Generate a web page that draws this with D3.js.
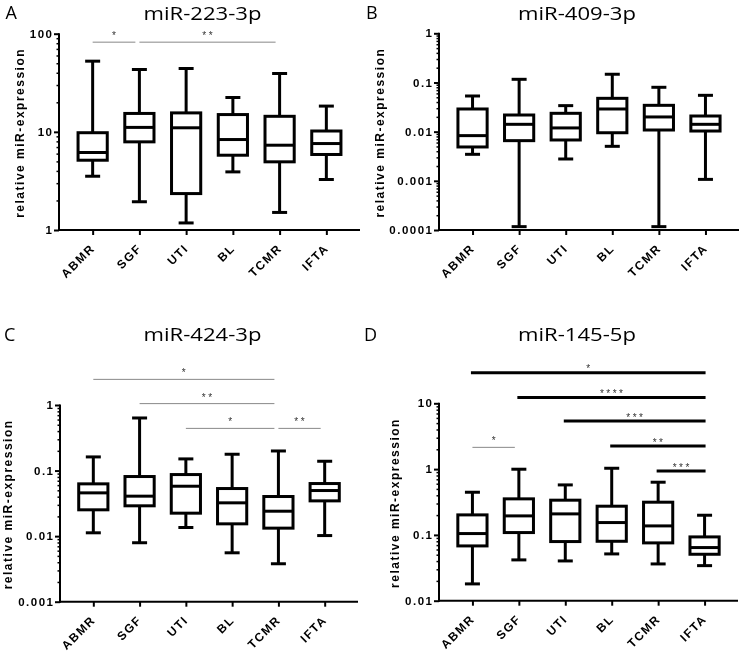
<!DOCTYPE html>
<html><head><meta charset="utf-8">
<script src="https://cdn.jsdelivr.net/npm/d3@7"></script>
<style>body{margin:0;background:#fff}svg{display:block;filter:grayscale(100%)}</style>
</head><body>
<svg id="c" width="740" height="652"></svg>
<script>
const categories = ["ABMR","SGF","UTI","BL","TCMR","IFTA"];

// Panel A: miR-223-3p
const aLow  = [3.53, 1.94, 1.18, 3.91, 1.51, 3.27];
const aQ1   = [5.14, 7.91, 2.35, 5.78, 4.95, 5.88];
const aMed  = [6.16, 11.1, 11.0, 8.35, 7.31, 7.6];
const aQ3   = [9.8, 15.4, 15.6, 15.0, 14.4, 10.2];
const aHigh = [52.5, 43.2, 44.2, 22.4, 39.3, 18.3];
const aTicks = [1, 10, 100];
const aTickLabels = ["1", "10", "100"];
const aSig = [["ABMR","SGF",82,"*","thin"],["SGF","TCMR",82,"**","thin"]];

// Panel B: miR-409-3p
const bLow  = [0.00346, 0.000117, 0.00278, 0.00503, 0.000117, 0.00107];
const bQ1   = [0.00488, 0.00656, 0.00677, 0.0095, 0.0108, 0.0103];
const bMed  = [0.0083, 0.0141, 0.0119, 0.0289, 0.0199, 0.0141];
const bQ3   = [0.0289, 0.0218, 0.0236, 0.0476, 0.0343, 0.0208];
const bHigh = [0.0531, 0.116, 0.0338, 0.147, 0.0798, 0.0548];
const bTicks = [0.0001, 0.001, 0.01, 0.1, 1];
const bTickLabels = ["0.0001", "0.001", "0.01", "0.1", "1"];
const bSig = [];

// Panel C: miR-424-3p
const cLow  = [0.01124, 0.00793, 0.01355, 0.00557, 0.00379, 0.0102];
const cQ1   = [0.0252, 0.029, 0.0224, 0.0154, 0.01324, 0.0345];
const cMed  = [0.0457, 0.0407, 0.0577, 0.0322, 0.024, 0.0496];
const cQ3   = [0.0627, 0.0811, 0.0869, 0.0532, 0.0402, 0.0634];
const cHigh = [0.1615, 0.634, 0.1506, 0.1774, 0.199, 0.1387];
const cTicks = [0.001, 0.01, 0.1, 1];
const cTickLabels = ["0.001", "0.01", "0.1", "1"];
const cSig = [["ABMR","TCMR",2.46,"*","thin"],["SGF","TCMR",1.05,"**","thin"],["UTI","TCMR",0.44,"*","thin"],["TCMR","IFTA",0.44,"**","thin"]];

// Panel D: miR-145-5p
const dLow  = [0.018, 0.0417, 0.0402, 0.0514, 0.0362, 0.0341];
const dQ1   = [0.068, 0.1085, 0.0792, 0.080, 0.0756, 0.0508];
const dMed  = [0.1048, 0.1945, 0.2086, 0.154, 0.137, 0.0642];
const dQ3   = [0.2014, 0.353, 0.337, 0.273, 0.314, 0.0932];
const dHigh = [0.445, 0.996, 0.575, 1.03, 0.632, 0.199];
const dTicks = [0.01, 0.1, 1, 10];
const dTickLabels = ["0.01", "0.1", "1", "10"];
const dSig = [["ABMR","IFTA",29.2,"*","thick"],["SGF","IFTA",12.3,"****","thick"],["UTI","IFTA",5.38,"***","thick"],["BL","IFTA",2.24,"**","thick"],["TCMR","IFTA",0.935,"***","thick"],["ABMR","SGF",2.14,"*","thin"]];

const titles = ["miR-223-3p","miR-409-3p","miR-424-3p","miR-145-5p"];
const letters = ["A","B","C","D"];
const yTitle = "relative miR-expression";

const panels = [
  {low:aLow,q1:aQ1,med:aMed,q3:aQ3,high:aHigh,ticks:aTicks,labels:aTickLabels,sig:aSig,
   x0:59,x1:360,yb:230,yt:33.7,titleX:202.5,titleY:19.5,letX:5.5,letY:19,ytX:23.5},
  {low:bLow,q1:bQ1,med:bMed,q3:bQ3,high:bHigh,ticks:bTicks,labels:bTickLabels,sig:bSig,
   x0:439,x1:739,yb:230,yt:33.3,titleX:577,titleY:19.5,letX:366,letY:19,ytX:383.5},
  {low:cLow,q1:cQ1,med:cMed,q3:cQ3,high:cHigh,ticks:cTicks,labels:cTickLabels,sig:cSig,
   x0:60,x1:358,yb:601.7,yt:405,titleX:202.5,titleY:341,letX:4,letY:341,ytX:11.8},
  {low:dLow,q1:dQ1,med:dMed,q3:dQ3,high:dHigh,ticks:dTicks,labels:dTickLabels,sig:dSig,
   x0:439,x1:738,yb:600.7,yt:403.3,titleX:577,titleY:341,letX:364,letY:341,ytX:398.5}
];

const svg = d3.select("#c");
const sansBold = "'Liberation Sans', Arial, sans-serif";
const titleWidth = 118;

panels.forEach((p, pi) => {
  const g = svg.append("g");
  const x = d3.scalePoint().domain(categories).range([p.x0, p.x1]).padding(0.72);
  const dom = [p.ticks[0], p.ticks[p.ticks.length-1]];
  const y = d3.scaleLog().domain(dom).range([p.yb, p.yt]);

  // title (horizontally stretched to match the reference's wide lettering)
  const tg = g.append("g").attr("transform", `translate(${p.titleX},${p.titleY})`);
  const tt = tg.append("text").attr("x", 0).attr("y", 0).attr("text-anchor","middle")
    .attr("font-family","'Open Sans', sans-serif").attr("font-size", 18).attr("fill","#000").text(titles[pi]);
  const tw = tt.node().getComputedTextLength();
  tt.attr("transform", `scale(${titleWidth / tw},1)`);

  g.append("text").attr("x", p.letX).attr("y", p.letY)
    .attr("font-family","'Open Sans', sans-serif").attr("font-size", 18).attr("fill","#000").text(letters[pi]);

  // y axis title
  g.append("text").attr("transform", `translate(${p.ytX},${(p.yb+p.yt)/2+1}) rotate(-90)`)
    .attr("text-anchor","middle").attr("font-family", sansBold).attr("font-weight","bold")
    .attr("font-size", 12).attr("letter-spacing", 1.5).attr("fill","#000").text(yTitle);

  // y axis with minor ticks
  const e0 = Math.round(Math.log10(dom[0])), e1 = Math.round(Math.log10(dom[1]));
  const minor = [];
  for (let e = e0; e < e1; e++) for (let k = 2; k <= 9; k++) minor.push(k * Math.pow(10, e));
  const yAxis = d3.axisLeft(y).tickValues(p.ticks).tickSize(5).tickFormat((d,i) => p.labels[i]);
  const ya = g.append("g").attr("transform", `translate(${p.x0},0)`).call(yAxis);
  ya.select(".domain").attr("stroke","#000").attr("stroke-width",2).attr("d", `M0,${p.yb+1}V${p.yt-0.5}`);
  ya.selectAll(".tick line").attr("stroke","#000").attr("stroke-width",2);
  ya.selectAll(".tick text").attr("font-family", sansBold).attr("font-weight","bold")
    .attr("font-size", 11.5).attr("letter-spacing", 1.5).attr("fill","#000").attr("x", -5.5);
  const yMinor = d3.axisLeft(y).tickValues(minor).tickSize(2.5).tickFormat("");
  const ym = g.append("g").attr("transform", `translate(${p.x0},0)`).call(yMinor);
  ym.select(".domain").remove();
  ym.selectAll(".tick line").attr("stroke","#000").attr("stroke-width",1.5);

  // x axis
  const xAxis = d3.axisBottom(x).tickSize(5).tickSizeOuter(0).tickFormat("");
  const xa = g.append("g").attr("transform", `translate(0,${p.yb})`).call(xAxis);
  xa.select(".domain").attr("stroke","#000").attr("stroke-width",2).attr("d", `M${p.x0-1},0H${p.x1}`);
  xa.selectAll(".tick line").attr("stroke","#000").attr("stroke-width",2);
  g.append("g").selectAll("text").data(categories).join("text")
    .attr("transform", d => `translate(${x(d)+3},${p.yb+19}) rotate(-45)`)
    .attr("text-anchor","end")
    .attr("font-family", sansBold).attr("font-weight","bold").attr("font-size", 12)
    .attr("letter-spacing", 1.5).attr("fill","#000").text(d => d);

  // boxes
  const hw = 14.6, cw = 7.5;
  categories.forEach((c, i) => {
    const cx = x(c);
    const bg = g.append("g").attr("stroke","#000").attr("stroke-width",3).attr("fill","none");
    bg.append("line").attr("x1",cx).attr("x2",cx).attr("y1",y(p.high[i])).attr("y2",y(p.q3[i]));
    bg.append("line").attr("x1",cx).attr("x2",cx).attr("y1",y(p.q1[i])).attr("y2",y(p.low[i]));
    bg.append("line").attr("x1",cx-cw).attr("x2",cx+cw).attr("y1",y(p.high[i])).attr("y2",y(p.high[i]));
    bg.append("line").attr("x1",cx-cw).attr("x2",cx+cw).attr("y1",y(p.low[i])).attr("y2",y(p.low[i]));
    bg.append("rect").attr("x",cx-hw).attr("width",2*hw).attr("y",y(p.q3[i]))
      .attr("height", y(p.q1[i]) - y(p.q3[i])).attr("fill","#fff");
    bg.append("line").attr("x1",cx-hw).attr("x2",cx+hw).attr("y1",y(p.med[i])).attr("y2",y(p.med[i]));
  });

  // significance
  p.sig.forEach(s => {
    const thick = s[4] === "thick";
    const xa1 = thick ? x(s[0]) - 1.5 : x(s[0]);
    const xa2 = thick ? x(s[1]) + 1 : x(s[1]) - 4;
    const yy = y(s[2]);
    g.append("line").attr("x1",xa1).attr("x2",xa2).attr("y1",yy).attr("y2",yy)
      .attr("stroke", thick ? "#000" : "#888").attr("stroke-width", thick ? 3 : 1);
    g.append("text").attr("x",(xa1+xa2)/2 + 1.2).attr("y", yy - (thick ? 0.5 : 3))
      .attr("text-anchor","middle").attr("font-family", sansBold).attr("font-size", 10)
      .attr("letter-spacing", 2.5).attr("fill","#333").text(s[3]);
  });
});
</script>
</body></html>
